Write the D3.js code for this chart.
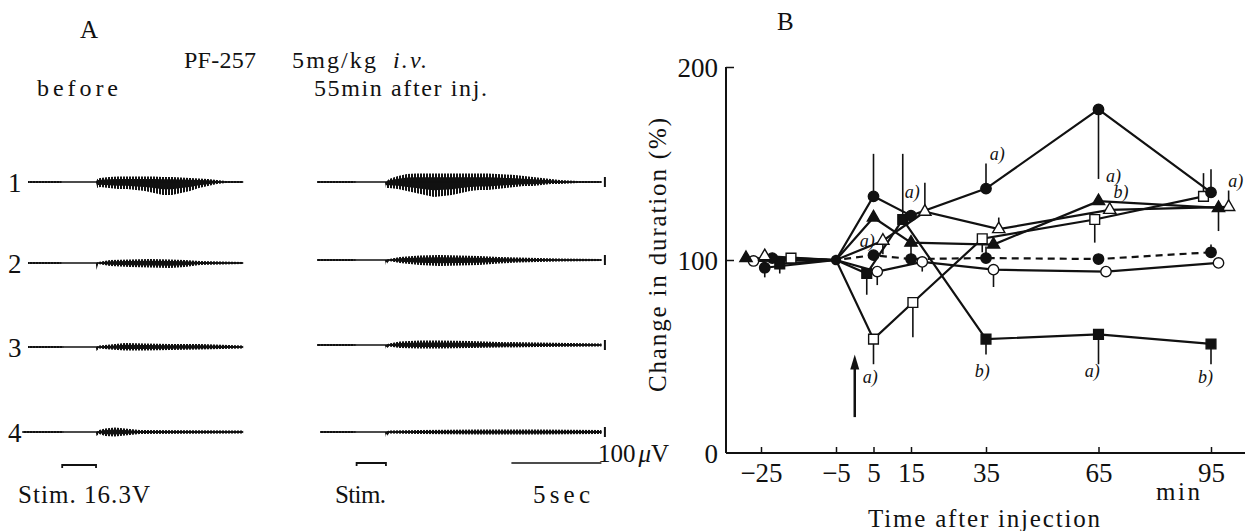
<!DOCTYPE html>
<html><head><meta charset="utf-8">
<script src="https://cdn.jsdelivr.net/npm/d3@7"></script>
<style>
body{margin:0;background:#fff}
svg{display:block}
text{font-family:"Liberation Serif","DejaVu Serif",serif;fill:#111}
</style>
</head><body><svg id="c" width="1245" height="531"></svg>
<script>
// ================= DATA =================
// Panel B axes
const xTickValues = [-25, -5, 5, 15, 35, 65, 95];
const xTickLabels = ["\u221225", "\u22125", "5", "15", "35", "65", "95"];
const yTickValues = [0, 100, 200];
const yTickLabels = ["0", "100", "200"];

// Panel B series (time in min, % change, error-bar end value)
const fcSolidT = [-24, -5, 5, 15, 35, 65, 95];
const fcSolidV = [96, 100, 133, 123, 137, 178, 135];
const fcSolidE = [91, null, 155, null, 150, 142, 147];

const fcDashT = [-22, -5, 5, 15, 35, 65, 95];
const fcDashV = [101, 100, 102.5, 100.5, 101, 100.5, 104];
const fcDashE = [null, null, null, 110, 107, null, 108];

const ocT = [-27, -5, 6, 18, 37, 67, 97];
const ocV = [99.5, 100, 94, 99, 95, 94, 98.5];
const ocE = [null, null, 87, 94, 86, null, null];

const ftT = [-29, -5, 5, 15, 37, 65, 97];
const ftV = [101, 100, 122, 109, 108, 130.5, 127];
const ftE = [null, null, null, null, null, null, 115];

const otT = [-24, -5, 7.5, 18.7, 38.4, 68, 99.7];
const otV = [102, 100, 110, 125, 116, 126, 127.5];
const otE = [null, null, 103, 140, 122, null, 136];

const fsT = [-20, -5, 3.2, 12.8, 35, 65, 95];
const fsV = [98, 100, 93, 121, 59, 61.5, 56.5];
const fsE = [93, null, 82, 155, 51, 46, 46];

const osT = [-17, -5, 5, 15.5, 34, 64, 93];
const osV = [101, 100, 59, 78, 111, 121, 133];
const osE = [null, null, 46, 60, 104, 109, 145];

const sharedT = -5, sharedV = 100;       // common point where all lines meet
const arrowT = 0, arrowFrom = 18.6, arrowTo = 51;  // injection arrow

// significance annotations: time, value (text baseline), label
const annT = [36, 13.3, 1.3, 67, 69, 99.6, 2.1, 32, 61.3, 91.5];
const annV = [152, 132, 106.7, 140.4, 132, 138, 36.3, 39.4, 39.4, 36.3];
const annText = ["a)", "a)", "a)", "a)", "b)", "a)", "a)", "b)", "a)", "b)"];

// Panel A traces: keyframes [time s, upper amplitude µV, lower amplitude µV]
const before1 = [[0,10,10],[1.8,10,10],[1.9,0,0],[3.78,0,0],[3.85,30,60],[4,40,50],[4.5,50,60],[5,55,70],[5.5,55,70],[6,55,80],[6.5,55,90],[7,55,110],[7.5,50,130],[8,50,130],[8.5,45,110],[9,40,90],[9.5,35,60],[10,30,40],[10.5,20,20],[11,10,10],[11.95,10,10]];
const before2 = [[0,10,10],[1.78,10,10],[1.89,0,0],[3.78,0,0],[3.8,0,70],[3.9,10,10],[4.56,30,30],[5.67,35,40],[6.78,40,45],[7.89,35,50],[8.72,30,40],[9.56,20,20],[11.95,10,10]];
const before3 = [[0,10,10],[1.89,10,10],[2,0,0],[3.78,0,0],[3.8,0,40],[3.95,15,15],[4.56,25,25],[5.39,40,35],[6.5,35,35],[7.89,30,30],[9.56,30,25],[11.95,15,15]];
const before4 = [[-0.3,10,10],[1.89,10,10],[2,0,0],[3.78,0,0],[3.8,0,40],[3.95,20,20],[4.28,35,40],[4.83,45,45],[5.39,35,35],[6.22,20,20],[11.95,15,15]];
const after1 = [[0,10,10],[2,10,10],[2.22,0,0],[3.78,0,0],[3.83,0,60],[4,30,60],[4.5,60,70],[5,80,90],[5.5,85,110],[6,85,130],[6.5,85,150],[7,85,140],[7.5,85,130],[8,85,110],[8.5,85,90],[9,85,80],[9.5,85,80],[10,80,70],[10.5,75,60],[11,70,50],[11.5,60,40],[12,50,40],[12.5,40,30],[13,30,20],[13.5,20,20],[14,15,15],[14.5,10,10],[15.8,10,10]];
const after2 = [[0,10,10],[2,10,10],[2.22,0,0],[3.78,0,0],[3.83,0,50],[4,10,10],[4.6,30,30],[5.7,45,50],[6.8,50,60],[7.9,45,55],[9,40,50],[10.1,30,35],[11.2,25,25],[12.3,20,20],[13.4,15,15],[15.8,10,10]];
const after3 = [[0,10,10],[2,10,10],[2.22,0,0],[3.78,0,0],[3.83,0,40],[4,15,15],[4.6,35,30],[5.7,45,35],[6.8,45,35],[8.5,40,30],[10.1,30,25],[12.3,25,20],[15.8,15,15]];
const after4 = [[0.17,10,10],[2,10,10],[2.22,0,0],[3.78,0,0],[3.83,0,50],[4,15,15],[5.7,20,20],[9,25,25],[12.3,25,25],[15.8,20,20]];
const rowLabels = ["1", "2", "3", "4"];
const stimBefore = [1.9, 3.78];
const stimAfter = [2.2, 3.83];
const timeBarSec = 5;
const ampBarUV = 100;

// ================= DRAW =================
const svg = d3.select("#c");
const ink = "#111";
const defs = svg.append("defs");
defs.append("pattern").attr("id", "hatch").attr("width", 3).attr("height", 6)
  .attr("patternUnits", "userSpaceOnUse")
  .append("rect").attr("width", 2).attr("height", 6).attr("fill", ink);

function txt(str, x, y, size, opts = {}) {
  const t = svg.append("text").attr("x", x).attr("y", y).attr("font-size", size).text(str);
  if (opts.anchor) t.attr("text-anchor", opts.anchor);
  if (opts.italic) t.attr("font-style", "italic");
  if (opts.len) t.attr("textLength", opts.len).attr("lengthAdjust", "spacing");
  if (opts.transform) t.attr("transform", opts.transform);
  return t;
}

// ---------- Panel A ----------
txt("A", 80, 38, 25);
txt("PF-257", 184, 68, 24, {len: 72});
txt("5mg/kg", 292, 68, 24, {len: 84});
txt("i.v.", 393, 68, 24, {italic: true, len: 34});
txt("before", 37, 96, 24, {len: 81});
txt("55min after inj.", 314, 96, 24, {len: 173});

const xBefore = d3.scaleLinear().domain([0, 12]).range([28, 244]);
const xAfter = d3.scaleLinear().domain([0, 15.8]).range([317, 601.4]);
const amp = d3.scaleLinear().domain([0, 100]).range([0, 10]);
const baseBefore = [182, 263, 347, 432];
const baseAfter = [182, 260, 345, 432];

function drawTrace(data, xs, base) {
  const outer = d3.area().x(d => xs(d[0])).y0(d => base + amp(d[2])).y1(d => base - amp(d[1]));
  const inner = d3.area().x(d => xs(d[0])).y0(d => base + amp(d[2] * 0.55)).y1(d => base - amp(d[1] * 0.55));
  svg.append("path").attr("d", outer(data)).attr("fill", "url(#hatch)");
  svg.append("path").attr("d", inner(data)).attr("fill", ink);
  svg.append("line").attr("x1", xs(data[0][0])).attr("x2", xs(data[data.length - 1][0]))
    .attr("y1", base).attr("y2", base).attr("stroke", ink).attr("stroke-width", 1.4);
}
[before1, before2, before3, before4].forEach((d, i) => drawTrace(d, xBefore, baseBefore[i]));
[after1, after2, after3, after4].forEach((d, i) => drawTrace(d, xAfter, baseAfter[i]));
rowLabels.forEach((l, i) => txt(l, 8, baseBefore[i] + 10, 27));

// amplitude bars at the end of "after" traces
baseAfter.forEach(b => {
  const x = xAfter(15.8) + 3.5;
  svg.append("line").attr("x1", x).attr("x2", x).attr("y1", b - amp(ampBarUV) / 2).attr("y2", b + amp(ampBarUV) / 2)
    .attr("stroke", ink).attr("stroke-width", 2);
});

function stimBar(xs, range, y) {
  const p = d3.path();
  p.moveTo(xs(range[0]), y + 3); p.lineTo(xs(range[0]), y); p.lineTo(xs(range[1]), y); p.lineTo(xs(range[1]), y + 3);
  svg.append("path").attr("d", p.toString()).attr("fill", "none").attr("stroke", ink).attr("stroke-width", 1.8);
}
stimBar(xBefore, stimBefore, 465);
stimBar(xAfter, stimAfter, 463);
svg.append("line").attr("x1", xAfter(15.8 - timeBarSec)).attr("x2", xAfter(15.8))
  .attr("y1", 463).attr("y2", 463).attr("stroke", ink).attr("stroke-width", 1.5);
txt("Stim. 16.3V", 18, 503, 25, {len: 132});
txt("Stim.", 335, 503, 25, {len: 51});
txt("5sec", 533, 503, 25, {len: 57});
const uv = svg.append("text").attr("x", 598).attr("y", 462).attr("font-size", 25);
uv.append("tspan").text("100");
uv.append("tspan").attr("font-style", "italic").attr("dx", 3).text("\u03bc");
uv.append("tspan").text("V");

// ---------- Panel B ----------
txt("B", 777, 30, 25);
const x = d3.scaleLinear().domain([-25, 95]).range([761, 1211]);
const y = d3.scaleLinear().domain([0, 200]).range([453, 67]);

// axis lines
svg.append("line").attr("x1", 726).attr("x2", 726).attr("y1", y(0)).attr("y2", y(200)).attr("stroke", ink).attr("stroke-width", 2);
svg.append("line").attr("x1", 726).attr("x2", 1245).attr("y1", y(0)).attr("y2", y(0)).attr("stroke", ink).attr("stroke-width", 2);

const xAxis = d3.axisBottom(x).tickValues(xTickValues).tickFormat((d, i) => xTickLabels[i]).tickSize(-6).tickPadding(10);
const gx = svg.append("g").attr("transform", `translate(0,${y(0)})`).call(xAxis);
gx.select(".domain").remove();
gx.selectAll(".tick line").attr("stroke", ink).attr("stroke-width", 1.5);
gx.selectAll(".tick text").attr("font-size", 27).attr("font-family", '"Liberation Serif",serif').attr("fill", ink);

const yAxis = d3.axisLeft(y).tickValues(yTickValues).tickFormat((d, i) => yTickLabels[i]).tickSize(-8).tickPadding(8);
const gy = svg.append("g").attr("transform", "translate(726,0)").call(yAxis);
gy.select(".domain").remove();
gy.selectAll(".tick line").attr("stroke", ink).attr("stroke-width", 1.5).filter(d => d === 0).remove();
gy.selectAll(".tick text").attr("font-size", 27).attr("font-family", '"Liberation Serif",serif').attr("fill", ink).attr("dy", "0.36em");

txt("Change in duration (%)", 0, 0, 25, {anchor: "middle", len: 274, transform: "translate(666,255) rotate(-90)"});
txt("Time after injection", 868, 527, 25, {len: 232});
txt("min", 1156, 500, 25, {len: 44});

// series
const series = [
  {t: osT, v: osV, e: osE, m: "square", fill: false, dash: false},
  {t: fsT, v: fsV, e: fsE, m: "square", fill: true, dash: false},
  {t: ocT, v: ocV, e: ocE, m: "circle", fill: false, dash: false},
  {t: fcDashT, v: fcDashV, e: fcDashE, m: "circle", fill: true, dash: true},
  {t: otT, v: otV, e: otE, m: "triangle", fill: false, dash: false},
  {t: ftT, v: ftV, e: ftE, m: "triangle", fill: true, dash: false},
  {t: fcSolidT, v: fcSolidV, e: fcSolidE, m: "circle", fill: true, dash: false},
];
const line = d3.line().x(d => x(d.t)).y(d => y(d.v));
series.forEach(s => {
  s.pts = s.t.map((t, i) => ({t, v: s.v[i], e: s.e[i]}));
  svg.append("path").attr("d", line(s.pts)).attr("fill", "none").attr("stroke", ink)
    .attr("stroke-width", 2.2).attr("stroke-dasharray", s.dash ? "7,5" : null);
});
series.forEach(s => {
  s.pts.filter(p => p.e != null).forEach(p => {
    svg.append("line").attr("x1", x(p.t)).attr("x2", x(p.t)).attr("y1", y(p.v)).attr("y2", y(p.e))
      .attr("stroke", ink).attr("stroke-width", 1.6);
  });
});
const symType = {circle: d3.symbolCircle, square: d3.symbolSquare, triangle: d3.symbolTriangle};
const symSize = {circle: 85, square: 95, triangle: 65};
series.forEach(s => {
  s.pts.filter(p => p.t !== sharedT).forEach(p => {
    svg.append("path").attr("d", d3.symbol().type(symType[s.m]).size(symSize[s.m])())
      .attr("transform", `translate(${x(p.t)},${y(p.v)})`)
      .attr("fill", s.fill ? ink : "#fff").attr("stroke", ink).attr("stroke-width", 1.4);
  });
});
svg.append("circle").attr("cx", x(sharedT)).attr("cy", y(sharedV)).attr("r", 5.2).attr("fill", ink);

// injection arrow
svg.append("line").attr("x1", x(arrowT)).attr("x2", x(arrowT)).attr("y1", y(arrowFrom)).attr("y2", y(arrowTo) + 10)
  .attr("stroke", ink).attr("stroke-width", 2.5);
svg.append("path").attr("d", `M${x(arrowT)},${y(arrowTo)} l-4.5,15 l9,0 z`).attr("fill", ink);

// annotations
annText.forEach((a, i) => txt(a, x(annT[i]), y(annV[i]), 18, {italic: true}));
</script>
</body></html>
